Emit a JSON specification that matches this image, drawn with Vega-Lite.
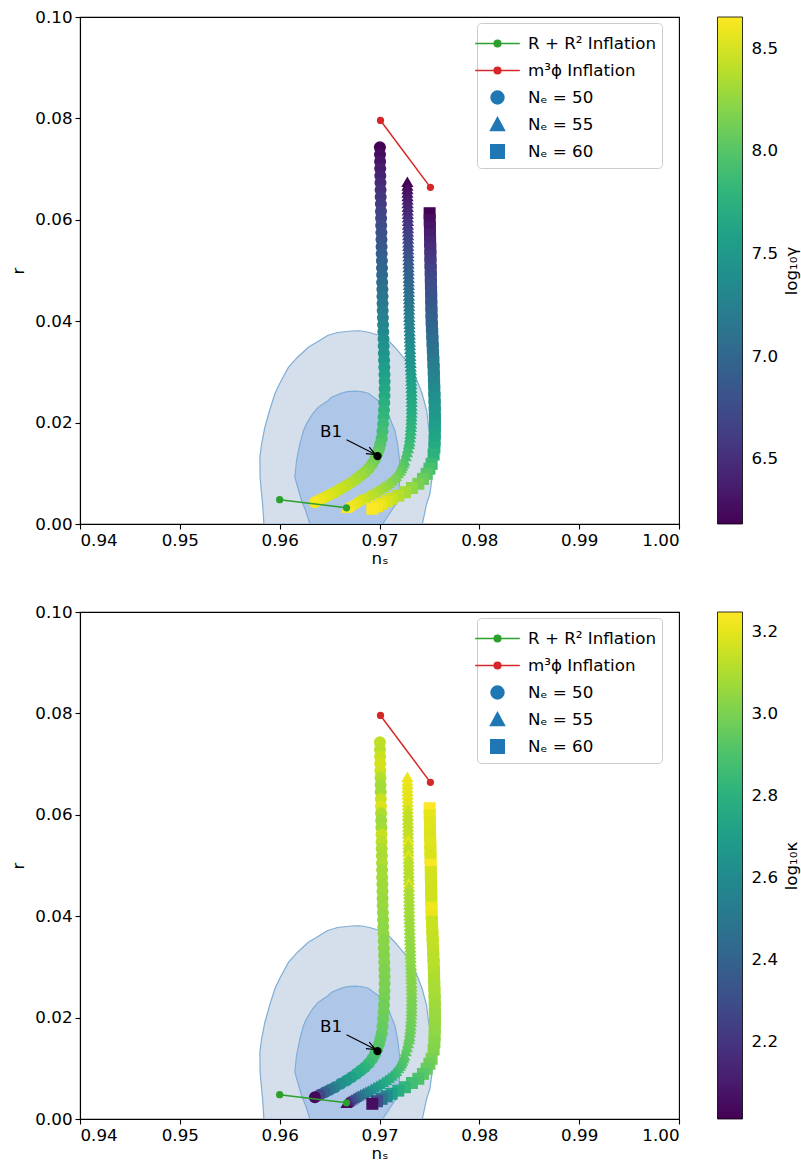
{
  "$schema": "https://vega.github.io/schema/vega-lite/v6.json",
  "background": "white",
  "padding": {"left": 9, "top": 8, "right": 0, "bottom": 0},
  "autosize": {"type": "pad"},
  "spacing": 35,
  "config": {
    "font": "DejaVu Sans",
    "view": {"stroke": "black", "strokeWidth": 1.1},
    "axis": {"labelFontSize": 16.7, "labelColor": "black", "titleFontSize": 16.7, "titleFontWeight": "normal", "titleColor": "black", "tickColor": "black", "tickSize": 5, "tickWidth": 1.1, "domainColor": "black", "domainWidth": 1.1, "grid": false, "labelPadding": 3, "zindex": 1}
  },
  "resolve": {"scale": {"color": "independent", "fill": "independent", "stroke": "independent", "shape": "independent"}},
  "datasets": {
    "contour": [
      {"lvl": "o", "r": 0, "lo": 0.95842, "hi": 0.97429},
      {"lvl": "o", "r": 0.00398, "lo": 0.95829, "hi": 0.97472},
      {"lvl": "o", "r": 0.00596, "lo": 0.95819, "hi": 0.97505},
      {"lvl": "o", "r": 0.00923, "lo": 0.95804, "hi": 0.97527},
      {"lvl": "o", "r": 0.01318, "lo": 0.95802, "hi": 0.97537},
      {"lvl": "o", "r": 0.01582, "lo": 0.95819, "hi": 0.97522},
      {"lvl": "o", "r": 0.01909, "lo": 0.95852, "hi": 0.97492},
      {"lvl": "o", "r": 0.02239, "lo": 0.95899, "hi": 0.97472},
      {"lvl": "o", "r": 0.02568, "lo": 0.95952, "hi": 0.97427},
      {"lvl": "o", "r": 0.02765, "lo": 0.95999, "hi": 0.97389},
      {"lvl": "o", "r": 0.03093, "lo": 0.96089, "hi": 0.97322},
      {"lvl": "o", "r": 0.0329, "lo": 0.96179, "hi": 0.97238},
      {"lvl": "o", "r": 0.03487, "lo": 0.96287, "hi": 0.97154},
      {"lvl": "o", "r": 0.0362, "lo": 0.964, "hi": 0.97088},
      {"lvl": "o", "r": 0.03718, "lo": 0.9648, "hi": 0.97001},
      {"lvl": "o", "r": 0.03777, "lo": 0.9658, "hi": 0.96901},
      {"lvl": "o", "r": 0.03807, "lo": 0.9672, "hi": 0.96821},
      {"lvl": "o", "r": 0.0381, "lo": 0.96788, "hi": 0.96788},
      {"lvl": "i", "r": 0, "lo": 0.96303, "hi": 0.97031},
      {"lvl": "i", "r": 0.00266, "lo": 0.9626, "hi": 0.97121},
      {"lvl": "i", "r": 0.00464, "lo": 0.96219, "hi": 0.97188},
      {"lvl": "i", "r": 0.00923, "lo": 0.96152, "hi": 0.97204},
      {"lvl": "i", "r": 0.01252, "lo": 0.96169, "hi": 0.97201},
      {"lvl": "i", "r": 0.01582, "lo": 0.96202, "hi": 0.97181},
      {"lvl": "i", "r": 0.01844, "lo": 0.96239, "hi": 0.97154},
      {"lvl": "i", "r": 0.01976, "lo": 0.96269, "hi": 0.97126},
      {"lvl": "i", "r": 0.02174, "lo": 0.9633, "hi": 0.97088},
      {"lvl": "i", "r": 0.02304, "lo": 0.96387, "hi": 0.97051},
      {"lvl": "i", "r": 0.02436, "lo": 0.96487, "hi": 0.96988},
      {"lvl": "i", "r": 0.02501, "lo": 0.9652, "hi": 0.96941},
      {"lvl": "i", "r": 0.0258, "lo": 0.9662, "hi": 0.96888},
      {"lvl": "i", "r": 0.0261, "lo": 0.9668, "hi": 0.96821},
      {"lvl": "i", "r": 0.02619, "lo": 0.96754, "hi": 0.96754}
    ],
    "curves": [
      {"n": 50, "x": 0.97004, "r": 0.0743, "g": 6.19, "k": 3.13},
      {"n": 50, "x": 0.97005, "r": 0.0729, "g": 6.25, "k": 3.12},
      {"n": 50, "x": 0.97006, "r": 0.0715, "g": 6.3, "k": 3.15},
      {"n": 50, "x": 0.97007, "r": 0.0701, "g": 6.36, "k": 3.17},
      {"n": 50, "x": 0.97008, "r": 0.0687, "g": 6.41, "k": 3.16},
      {"n": 50, "x": 0.9701, "r": 0.0673, "g": 6.46, "k": 3.11},
      {"n": 50, "x": 0.97011, "r": 0.0659, "g": 6.51, "k": 3.08},
      {"n": 50, "x": 0.97012, "r": 0.0645, "g": 6.56, "k": 3.08},
      {"n": 50, "x": 0.97014, "r": 0.0631, "g": 6.61, "k": 3.15},
      {"n": 50, "x": 0.97015, "r": 0.0617, "g": 6.66, "k": 3.18},
      {"n": 50, "x": 0.97016, "r": 0.0603, "g": 6.7, "k": 3.1},
      {"n": 50, "x": 0.97017, "r": 0.0589, "g": 6.74, "k": 3.07},
      {"n": 50, "x": 0.97019, "r": 0.0575, "g": 6.78, "k": 3.08},
      {"n": 50, "x": 0.9702, "r": 0.0561, "g": 6.82, "k": 3.14},
      {"n": 50, "x": 0.97021, "r": 0.0547, "g": 6.86, "k": 3.12},
      {"n": 50, "x": 0.97022, "r": 0.0533, "g": 6.9, "k": 3.1},
      {"n": 50, "x": 0.97024, "r": 0.0519, "g": 6.94, "k": 3.09},
      {"n": 50, "x": 0.97025, "r": 0.0505, "g": 6.98, "k": 3.1},
      {"n": 50, "x": 0.97026, "r": 0.0491, "g": 7.02, "k": 3.08},
      {"n": 50, "x": 0.97027, "r": 0.0477, "g": 7.06, "k": 3.08},
      {"n": 50, "x": 0.97029, "r": 0.0463, "g": 7.1, "k": 3.07},
      {"n": 50, "x": 0.9703, "r": 0.0449, "g": 7.14, "k": 3.07},
      {"n": 50, "x": 0.97031, "r": 0.0435, "g": 7.18, "k": 3.06},
      {"n": 50, "x": 0.97032, "r": 0.0421, "g": 7.22, "k": 3.06},
      {"n": 50, "x": 0.97034, "r": 0.0407, "g": 7.26, "k": 3.05},
      {"n": 50, "x": 0.97036, "r": 0.0393, "g": 7.3, "k": 3.05},
      {"n": 50, "x": 0.97038, "r": 0.0379, "g": 7.34, "k": 3.04},
      {"n": 50, "x": 0.9704, "r": 0.0365, "g": 7.38, "k": 3.04},
      {"n": 50, "x": 0.97042, "r": 0.0351, "g": 7.42, "k": 3.03},
      {"n": 50, "x": 0.97044, "r": 0.0337, "g": 7.46, "k": 3.03},
      {"n": 50, "x": 0.97046, "r": 0.0323, "g": 7.5, "k": 3.02},
      {"n": 50, "x": 0.97048, "r": 0.0309, "g": 7.54, "k": 3.02},
      {"n": 50, "x": 0.9705, "r": 0.0295, "g": 7.58, "k": 3.01},
      {"n": 50, "x": 0.97051, "r": 0.0281, "g": 7.62, "k": 3.01},
      {"n": 50, "x": 0.97051, "r": 0.0267, "g": 7.66, "k": 3.0},
      {"n": 50, "x": 0.9705, "r": 0.0253, "g": 7.7, "k": 3.0},
      {"n": 50, "x": 0.97048, "r": 0.0239, "g": 7.74, "k": 2.99},
      {"n": 50, "x": 0.97045, "r": 0.0225, "g": 7.78, "k": 2.98},
      {"n": 50, "x": 0.97041, "r": 0.0211, "g": 7.82, "k": 2.98},
      {"n": 50, "x": 0.97036, "r": 0.0197, "g": 7.86, "k": 2.97},
      {"n": 50, "x": 0.9703, "r": 0.0183, "g": 7.9, "k": 2.96},
      {"n": 50, "x": 0.97022, "r": 0.0169, "g": 7.94, "k": 2.95},
      {"n": 50, "x": 0.97008, "r": 0.0158, "g": 7.98, "k": 2.94},
      {"n": 50, "x": 0.96995, "r": 0.0148, "g": 8.02, "k": 2.93},
      {"n": 50, "x": 0.96978, "r": 0.01385, "g": 8.06, "k": 2.92},
      {"n": 50, "x": 0.96955, "r": 0.0128, "g": 8.1, "k": 2.9},
      {"n": 50, "x": 0.96928, "r": 0.01187, "g": 8.15, "k": 2.88},
      {"n": 50, "x": 0.96893, "r": 0.011, "g": 8.2, "k": 2.85},
      {"n": 50, "x": 0.96854, "r": 0.01022, "g": 8.25, "k": 2.82},
      {"n": 50, "x": 0.96813, "r": 0.00955, "g": 8.29, "k": 2.79},
      {"n": 50, "x": 0.96771, "r": 0.00892, "g": 8.33, "k": 2.76},
      {"n": 50, "x": 0.9672, "r": 0.00825, "g": 8.37, "k": 2.72},
      {"n": 50, "x": 0.9667, "r": 0.00759, "g": 8.41, "k": 2.68},
      {"n": 50, "x": 0.96612, "r": 0.00693, "g": 8.45, "k": 2.62},
      {"n": 50, "x": 0.96553, "r": 0.00627, "g": 8.49, "k": 2.56},
      {"n": 50, "x": 0.96503, "r": 0.00578, "g": 8.52, "k": 2.49},
      {"n": 50, "x": 0.96453, "r": 0.00529, "g": 8.55, "k": 2.4},
      {"n": 50, "x": 0.96403, "r": 0.0048, "g": 8.59, "k": 2.28},
      {"n": 50, "x": 0.96353, "r": 0.0043, "g": 8.63, "k": 2.03},
      {"n": 55, "x": 0.97279, "r": 0.0675, "g": 6.19, "k": 3.22},
      {"n": 55, "x": 0.9728, "r": 0.0668, "g": 6.22, "k": 3.21},
      {"n": 55, "x": 0.9728, "r": 0.0661, "g": 6.26, "k": 3.21},
      {"n": 55, "x": 0.9728, "r": 0.0654, "g": 6.3, "k": 3.2},
      {"n": 55, "x": 0.97281, "r": 0.0647, "g": 6.33, "k": 3.2},
      {"n": 55, "x": 0.97282, "r": 0.064, "g": 6.36, "k": 3.2},
      {"n": 55, "x": 0.97282, "r": 0.0633, "g": 6.39, "k": 3.2},
      {"n": 55, "x": 0.97283, "r": 0.0626, "g": 6.42, "k": 3.19},
      {"n": 55, "x": 0.97283, "r": 0.0619, "g": 6.45, "k": 3.19},
      {"n": 55, "x": 0.97284, "r": 0.0612, "g": 6.48, "k": 3.16},
      {"n": 55, "x": 0.97284, "r": 0.0605, "g": 6.51, "k": 3.14},
      {"n": 55, "x": 0.97285, "r": 0.0598, "g": 6.54, "k": 3.13},
      {"n": 55, "x": 0.97285, "r": 0.0591, "g": 6.57, "k": 3.13},
      {"n": 55, "x": 0.97286, "r": 0.0584, "g": 6.6, "k": 3.13},
      {"n": 55, "x": 0.97286, "r": 0.0577, "g": 6.63, "k": 3.13},
      {"n": 55, "x": 0.97287, "r": 0.057, "g": 6.66, "k": 3.13},
      {"n": 55, "x": 0.97287, "r": 0.0563, "g": 6.68, "k": 3.14},
      {"n": 55, "x": 0.97288, "r": 0.0556, "g": 6.7, "k": 3.14},
      {"n": 55, "x": 0.97288, "r": 0.0549, "g": 6.73, "k": 3.21},
      {"n": 55, "x": 0.97289, "r": 0.0542, "g": 6.76, "k": 3.14},
      {"n": 55, "x": 0.97289, "r": 0.0535, "g": 6.78, "k": 3.13},
      {"n": 55, "x": 0.9729, "r": 0.0528, "g": 6.82, "k": 3.13},
      {"n": 55, "x": 0.9729, "r": 0.0521, "g": 6.85, "k": 3.2},
      {"n": 55, "x": 0.97291, "r": 0.0514, "g": 6.88, "k": 3.12},
      {"n": 55, "x": 0.97291, "r": 0.0507, "g": 6.9, "k": 3.12},
      {"n": 55, "x": 0.97292, "r": 0.05, "g": 6.93, "k": 3.12},
      {"n": 55, "x": 0.97292, "r": 0.0493, "g": 6.95, "k": 3.12},
      {"n": 55, "x": 0.97293, "r": 0.0486, "g": 6.98, "k": 3.11},
      {"n": 55, "x": 0.97293, "r": 0.0479, "g": 7.0, "k": 3.11},
      {"n": 55, "x": 0.97294, "r": 0.0472, "g": 7.03, "k": 3.11},
      {"n": 55, "x": 0.97294, "r": 0.0465, "g": 7.05, "k": 3.2},
      {"n": 55, "x": 0.97295, "r": 0.0458, "g": 7.08, "k": 3.1},
      {"n": 55, "x": 0.97295, "r": 0.0451, "g": 7.1, "k": 3.1},
      {"n": 55, "x": 0.97296, "r": 0.0444, "g": 7.12, "k": 3.09},
      {"n": 55, "x": 0.97296, "r": 0.0437, "g": 7.14, "k": 3.09},
      {"n": 55, "x": 0.97297, "r": 0.043, "g": 7.16, "k": 3.09},
      {"n": 55, "x": 0.97297, "r": 0.0423, "g": 7.18, "k": 3.08},
      {"n": 55, "x": 0.97298, "r": 0.0416, "g": 7.2, "k": 3.08},
      {"n": 55, "x": 0.97298, "r": 0.0409, "g": 7.22, "k": 3.08},
      {"n": 55, "x": 0.97299, "r": 0.0402, "g": 7.24, "k": 3.07},
      {"n": 55, "x": 0.973, "r": 0.0395, "g": 7.26, "k": 3.07},
      {"n": 55, "x": 0.97301, "r": 0.0388, "g": 7.28, "k": 3.07},
      {"n": 55, "x": 0.97302, "r": 0.0381, "g": 7.3, "k": 3.07},
      {"n": 55, "x": 0.97303, "r": 0.0374, "g": 7.32, "k": 3.06},
      {"n": 55, "x": 0.97304, "r": 0.0367, "g": 7.34, "k": 3.06},
      {"n": 55, "x": 0.97305, "r": 0.036, "g": 7.36, "k": 3.06},
      {"n": 55, "x": 0.97306, "r": 0.0353, "g": 7.38, "k": 3.05},
      {"n": 55, "x": 0.97307, "r": 0.0346, "g": 7.4, "k": 3.05},
      {"n": 55, "x": 0.97308, "r": 0.0339, "g": 7.42, "k": 3.05},
      {"n": 55, "x": 0.97309, "r": 0.0332, "g": 7.44, "k": 3.04},
      {"n": 55, "x": 0.9731, "r": 0.0325, "g": 7.46, "k": 3.04},
      {"n": 55, "x": 0.97312, "r": 0.0318, "g": 7.48, "k": 3.04},
      {"n": 55, "x": 0.97313, "r": 0.0311, "g": 7.5, "k": 3.04},
      {"n": 55, "x": 0.97315, "r": 0.0304, "g": 7.52, "k": 3.03},
      {"n": 55, "x": 0.97316, "r": 0.0297, "g": 7.54, "k": 3.03},
      {"n": 55, "x": 0.97317, "r": 0.029, "g": 7.56, "k": 3.03},
      {"n": 55, "x": 0.97318, "r": 0.0283, "g": 7.58, "k": 3.03},
      {"n": 55, "x": 0.97319, "r": 0.0276, "g": 7.6, "k": 3.02},
      {"n": 55, "x": 0.9732, "r": 0.0269, "g": 7.62, "k": 3.02},
      {"n": 55, "x": 0.97321, "r": 0.0262, "g": 7.64, "k": 3.02},
      {"n": 55, "x": 0.97321, "r": 0.0255, "g": 7.65, "k": 3.02},
      {"n": 55, "x": 0.97322, "r": 0.0248, "g": 7.66, "k": 3.01},
      {"n": 55, "x": 0.97322, "r": 0.0241, "g": 7.68, "k": 3.01},
      {"n": 55, "x": 0.97322, "r": 0.0234, "g": 7.7, "k": 3.0},
      {"n": 55, "x": 0.97322, "r": 0.0227, "g": 7.71, "k": 3.0},
      {"n": 55, "x": 0.97321, "r": 0.022, "g": 7.72, "k": 3.0},
      {"n": 55, "x": 0.9732, "r": 0.0213, "g": 7.74, "k": 2.99},
      {"n": 55, "x": 0.97319, "r": 0.0206, "g": 7.76, "k": 2.99},
      {"n": 55, "x": 0.97317, "r": 0.0199, "g": 7.77, "k": 2.99},
      {"n": 55, "x": 0.97315, "r": 0.0192, "g": 7.78, "k": 2.98},
      {"n": 55, "x": 0.97312, "r": 0.0185, "g": 7.8, "k": 2.98},
      {"n": 55, "x": 0.97309, "r": 0.0178, "g": 7.82, "k": 2.97},
      {"n": 55, "x": 0.97305, "r": 0.0171, "g": 7.83, "k": 2.97},
      {"n": 55, "x": 0.973, "r": 0.0164, "g": 7.85, "k": 2.96},
      {"n": 55, "x": 0.97295, "r": 0.0158, "g": 7.86, "k": 2.96},
      {"n": 55, "x": 0.97286, "r": 0.015, "g": 7.89, "k": 2.955},
      {"n": 55, "x": 0.97275, "r": 0.0142, "g": 7.92, "k": 2.95},
      {"n": 55, "x": 0.97263, "r": 0.0134, "g": 7.95, "k": 2.94},
      {"n": 55, "x": 0.97249, "r": 0.01252, "g": 7.98, "k": 2.93},
      {"n": 55, "x": 0.97239, "r": 0.01204, "g": 8.0, "k": 2.92},
      {"n": 55, "x": 0.97228, "r": 0.01155, "g": 8.03, "k": 2.91},
      {"n": 55, "x": 0.97217, "r": 0.01105, "g": 8.05, "k": 2.9},
      {"n": 55, "x": 0.97204, "r": 0.01055, "g": 8.08, "k": 2.89},
      {"n": 55, "x": 0.97186, "r": 0.01005, "g": 8.11, "k": 2.88},
      {"n": 55, "x": 0.97166, "r": 0.00955, "g": 8.14, "k": 2.86},
      {"n": 55, "x": 0.97145, "r": 0.00906, "g": 8.17, "k": 2.84},
      {"n": 55, "x": 0.97121, "r": 0.00858, "g": 8.2, "k": 2.82},
      {"n": 55, "x": 0.97094, "r": 0.00816, "g": 8.23, "k": 2.8},
      {"n": 55, "x": 0.97065, "r": 0.00775, "g": 8.26, "k": 2.78},
      {"n": 55, "x": 0.97035, "r": 0.00735, "g": 8.29, "k": 2.76},
      {"n": 55, "x": 0.97004, "r": 0.00694, "g": 8.32, "k": 2.73},
      {"n": 55, "x": 0.96975, "r": 0.00661, "g": 8.35, "k": 2.7},
      {"n": 55, "x": 0.96946, "r": 0.00628, "g": 8.38, "k": 2.67},
      {"n": 55, "x": 0.96917, "r": 0.00595, "g": 8.41, "k": 2.64},
      {"n": 55, "x": 0.96888, "r": 0.00562, "g": 8.44, "k": 2.6},
      {"n": 55, "x": 0.96863, "r": 0.00537, "g": 8.46, "k": 2.56},
      {"n": 55, "x": 0.96838, "r": 0.00513, "g": 8.49, "k": 2.52},
      {"n": 55, "x": 0.96813, "r": 0.00488, "g": 8.51, "k": 2.48},
      {"n": 55, "x": 0.96788, "r": 0.00464, "g": 8.54, "k": 2.44},
      {"n": 55, "x": 0.96766, "r": 0.0044, "g": 8.56, "k": 2.39},
      {"n": 55, "x": 0.96745, "r": 0.00415, "g": 8.58, "k": 2.34},
      {"n": 55, "x": 0.96724, "r": 0.0039, "g": 8.6, "k": 2.28},
      {"n": 55, "x": 0.96703, "r": 0.00365, "g": 8.62, "k": 2.22},
      {"n": 55, "x": 0.96686, "r": 0.00342, "g": 8.64, "k": 2.12},
      {"n": 55, "x": 0.9667, "r": 0.0032, "g": 8.65, "k": 2.03},
      {"n": 60, "x": 0.97502, "r": 0.0613, "g": 6.19, "k": 3.25},
      {"n": 60, "x": 0.97503, "r": 0.0599, "g": 6.26, "k": 3.2},
      {"n": 60, "x": 0.97505, "r": 0.0585, "g": 6.32, "k": 3.19},
      {"n": 60, "x": 0.97506, "r": 0.0571, "g": 6.38, "k": 3.19},
      {"n": 60, "x": 0.97507, "r": 0.0557, "g": 6.44, "k": 3.18},
      {"n": 60, "x": 0.97509, "r": 0.0543, "g": 6.5, "k": 3.19},
      {"n": 60, "x": 0.9751, "r": 0.0529, "g": 6.55, "k": 3.18},
      {"n": 60, "x": 0.97511, "r": 0.0515, "g": 6.6, "k": 3.18},
      {"n": 60, "x": 0.97513, "r": 0.0501, "g": 6.65, "k": 3.24},
      {"n": 60, "x": 0.97514, "r": 0.0487, "g": 6.7, "k": 3.17},
      {"n": 60, "x": 0.97515, "r": 0.0473, "g": 6.74, "k": 3.16},
      {"n": 60, "x": 0.97517, "r": 0.0459, "g": 6.78, "k": 3.16},
      {"n": 60, "x": 0.97518, "r": 0.0445, "g": 6.82, "k": 3.16},
      {"n": 60, "x": 0.97519, "r": 0.0431, "g": 6.86, "k": 3.16},
      {"n": 60, "x": 0.97521, "r": 0.0417, "g": 6.9, "k": 3.22},
      {"n": 60, "x": 0.97522, "r": 0.0403, "g": 6.94, "k": 3.21},
      {"n": 60, "x": 0.97525, "r": 0.0389, "g": 6.98, "k": 3.15},
      {"n": 60, "x": 0.97528, "r": 0.0375, "g": 7.02, "k": 3.15},
      {"n": 60, "x": 0.97531, "r": 0.0361, "g": 7.07, "k": 3.14},
      {"n": 60, "x": 0.97534, "r": 0.0347, "g": 7.11, "k": 3.14},
      {"n": 60, "x": 0.97537, "r": 0.0333, "g": 7.15, "k": 3.13},
      {"n": 60, "x": 0.9754, "r": 0.0319, "g": 7.2, "k": 3.12},
      {"n": 60, "x": 0.97543, "r": 0.0305, "g": 7.24, "k": 3.12},
      {"n": 60, "x": 0.97545, "r": 0.0291, "g": 7.28, "k": 3.11},
      {"n": 60, "x": 0.97547, "r": 0.0277, "g": 7.32, "k": 3.1},
      {"n": 60, "x": 0.97549, "r": 0.0263, "g": 7.36, "k": 3.09},
      {"n": 60, "x": 0.97551, "r": 0.0249, "g": 7.4, "k": 3.09},
      {"n": 60, "x": 0.97553, "r": 0.0235, "g": 7.44, "k": 3.08},
      {"n": 60, "x": 0.97554, "r": 0.0221, "g": 7.48, "k": 3.07},
      {"n": 60, "x": 0.97555, "r": 0.0207, "g": 7.52, "k": 3.06},
      {"n": 60, "x": 0.97555, "r": 0.0193, "g": 7.56, "k": 3.06},
      {"n": 60, "x": 0.97554, "r": 0.0179, "g": 7.6, "k": 3.05},
      {"n": 60, "x": 0.97552, "r": 0.0165, "g": 7.65, "k": 3.04},
      {"n": 60, "x": 0.9755, "r": 0.0151, "g": 7.7, "k": 3.03},
      {"n": 60, "x": 0.97542, "r": 0.0137, "g": 7.77, "k": 3.02},
      {"n": 60, "x": 0.97522, "r": 0.01187, "g": 7.86, "k": 3.0},
      {"n": 60, "x": 0.975, "r": 0.0109, "g": 7.93, "k": 2.98},
      {"n": 60, "x": 0.97472, "r": 0.0099, "g": 8.0, "k": 2.96},
      {"n": 60, "x": 0.97435, "r": 0.0089, "g": 8.08, "k": 2.93},
      {"n": 60, "x": 0.97389, "r": 0.00793, "g": 8.16, "k": 2.9},
      {"n": 60, "x": 0.97325, "r": 0.0071, "g": 8.24, "k": 2.87},
      {"n": 60, "x": 0.97255, "r": 0.00627, "g": 8.32, "k": 2.83},
      {"n": 60, "x": 0.97188, "r": 0.0056, "g": 8.39, "k": 2.78},
      {"n": 60, "x": 0.97121, "r": 0.00497, "g": 8.45, "k": 2.72},
      {"n": 60, "x": 0.97071, "r": 0.00447, "g": 8.51, "k": 2.6},
      {"n": 60, "x": 0.97021, "r": 0.00398, "g": 8.56, "k": 2.48},
      {"n": 60, "x": 0.96975, "r": 0.0035, "g": 8.61, "k": 2.3},
      {"n": 60, "x": 0.96928, "r": 0.003, "g": 8.65, "k": 2.05}
    ],
    "lines": [
      {"s": "R", "x": 0.96, "r": 0.0048},
      {"s": "R", "x": 0.9667, "r": 0.0032},
      {"s": "m", "x": 0.9701, "r": 0.0796},
      {"s": "m", "x": 0.9751, "r": 0.0664}
    ],
    "arrow": [{"x": 0.9667, "r": 0.0166, "x2": 0.96961, "r2": 0.01371}],
    "b1": [{"x": 0.9698, "r": 0.0134, "lx": 0.96515, "lr": 0.0171, "t": "B1"}]
  },
  "vconcat": [
    {
      "width": 599, "height": 507,
      "resolve": {"axis": {"y": "independent"}},
      "layer": [
        {"data": {"name": "contour"}, "transform": [{"filter": "datum.lvl == 'o'"}],
         "mark": {"type": "area", "orient": "horizontal", "fill": "#d5dfeb", "stroke": "#80aed6", "strokeWidth": 1.2, "clip": true},
         "encoding": {
           "y": {"field": "r", "type": "quantitative", "title": "r", "scale": {"domain": [0, 0.1], "nice": false, "zero": false}, "axis": {"orient": "left", "values": [0, 0.02, 0.04, 0.06, 0.08, 0.1], "format": ".2f", "titlePadding": 7.5}},
           "x": {"field": "lo", "type": "quantitative", "title": "nₛ", "scale": {"domain": [0.94, 1.0], "nice": false, "zero": false}, "axis": {"values": [0.94, 0.95, 0.96, 0.97, 0.98, 0.99, 1.0], "format": ".2f", "titlePadding": 2}},
           "x2": {"field": "hi"}}},
        {"data": {"name": "contour"}, "transform": [{"filter": "datum.lvl == 'i'"}],
         "mark": {"type": "area", "orient": "horizontal", "fill": "#aec6e8", "stroke": "#80aed6", "strokeWidth": 1.2, "clip": true},
         "encoding": {"y": {"field": "r", "type": "quantitative", "title": "r", "axis": null}, "x": {"field": "lo", "type": "quantitative", "title": "nₛ"}, "x2": {"field": "hi"}}},
        {"data": {"name": "curves"}, "transform": [{"filter": "datum.n == 50"}],
         "mark": {"type": "point", "shape": "circle", "filled": true, "size": 144, "opacity": 1},
         "encoding": {"x": {"field": "x", "type": "quantitative", "title": "nₛ"}, "y": {"field": "r", "type": "quantitative", "title": "r", "axis": null},
           "color": {"field": "g", "type": "quantitative", "scale": {"scheme": "viridis", "domain": [6.183, 8.656]}, "legend": {"title": null, "orient": "none", "legendX": 637.5, "legendY": 0, "direction": "vertical", "gradientLength": 507, "gradientThickness": 25, "padding": 0, "values": [6.5, 7, 7.5, 8, 8.5], "format": ".1f", "labelFontSize": 16.7, "labelColor": "black", "labelOffset": 9, "labelOverlap": false, "gradientStrokeColor": "black", "gradientStrokeWidth": 0.8}}}},
        {"data": {"name": "curves"}, "transform": [{"filter": "datum.n == 55"}],
         "mark": {"type": "point", "shape": "triangle-up", "filled": true, "size": 150, "opacity": 1},
         "encoding": {"x": {"field": "x", "type": "quantitative", "title": "nₛ"}, "y": {"field": "r", "type": "quantitative", "title": "r", "axis": null},
           "color": {"field": "g", "type": "quantitative", "scale": {"scheme": "viridis", "domain": [6.183, 8.656]}, "legend": {"title": null, "orient": "none", "legendX": 637.5, "legendY": 0, "direction": "vertical", "gradientLength": 507, "gradientThickness": 25, "padding": 0, "values": [6.5, 7, 7.5, 8, 8.5], "format": ".1f", "labelFontSize": 16.7, "labelColor": "black", "labelOffset": 9, "labelOverlap": false, "gradientStrokeColor": "black", "gradientStrokeWidth": 0.8}}}},
        {"data": {"name": "curves"}, "transform": [{"filter": "datum.n == 60"}],
         "mark": {"type": "point", "shape": "square", "filled": true, "size": 144, "opacity": 1},
         "encoding": {"x": {"field": "x", "type": "quantitative", "title": "nₛ"}, "y": {"field": "r", "type": "quantitative", "title": "r", "axis": null},
           "color": {"field": "g", "type": "quantitative", "scale": {"scheme": "viridis", "domain": [6.183, 8.656]}, "legend": {"title": null, "orient": "none", "legendX": 637.5, "legendY": 0, "direction": "vertical", "gradientLength": 507, "gradientThickness": 25, "padding": 0, "values": [6.5, 7, 7.5, 8, 8.5], "format": ".1f", "labelFontSize": 16.7, "labelColor": "black", "labelOffset": 9, "labelOverlap": false, "gradientStrokeColor": "black", "gradientStrokeWidth": 0.8}}}},
        {"data": {"name": "lines"}, "transform": [{"filter": "datum.s == 'R'"}],
         "mark": {"type": "line", "color": "#2ca02c", "strokeWidth": 1.5, "point": {"filled": true, "size": 53, "color": "#2ca02c", "opacity": 1}},
         "encoding": {"x": {"field": "x", "type": "quantitative", "title": "nₛ"}, "y": {"field": "r", "type": "quantitative", "title": "r", "axis": null}}},
        {"data": {"name": "lines"}, "transform": [{"filter": "datum.s == 'm'"}],
         "mark": {"type": "line", "color": "#d62728", "strokeWidth": 1.5, "point": {"filled": true, "size": 53, "color": "#d62728", "opacity": 1}},
         "encoding": {"x": {"field": "x", "type": "quantitative", "title": "nₛ"}, "y": {"field": "r", "type": "quantitative", "title": "r", "axis": null}}},
        {"data": {"name": "arrow"},
         "mark": {"type": "rule", "color": "black", "strokeWidth": 1.2},
         "encoding": {"x": {"field": "x", "type": "quantitative", "title": "nₛ"}, "y": {"field": "r", "type": "quantitative", "title": "r", "axis": null}, "x2": {"field": "x2"}, "y2": {"field": "r2"}}},
        {"data": {"name": "arrow"},
         "mark": {"type": "point", "shape": "M-1,-0.4L0,0L-1,0.4", "filled": false, "size": 324, "angle": 27, "stroke": "black", "strokeWidth": 1.2, "opacity": 1},
         "encoding": {"x": {"field": "x2", "type": "quantitative", "title": "nₛ"}, "y": {"field": "r2", "type": "quantitative", "title": "r", "axis": null}}},
        {"data": {"name": "b1"},
         "mark": {"type": "point", "shape": "circle", "filled": true, "size": 69, "color": "black", "opacity": 1},
         "encoding": {"x": {"field": "x", "type": "quantitative", "title": "nₛ"}, "y": {"field": "r", "type": "quantitative", "title": "r", "axis": null}}},
        {"data": {"name": "b1"},
         "mark": {"type": "text", "fontSize": 16.7, "align": "center", "baseline": "alphabetic", "color": "black"},
         "encoding": {"x": {"field": "lx", "type": "quantitative", "title": "nₛ"}, "y": {"field": "lr", "type": "quantitative", "title": "r", "axis": null}, "text": {"field": "t"}}},
        {"data": {"name": "lines"}, "transform": [{"filter": "false"}],
         "mark": {"type": "point", "filled": true, "opacity": 1},
         "encoding": {"x": {"field": "x", "type": "quantitative", "title": "nₛ"},
           "y": {"field": "r", "type": "quantitative", "title": "log₁₀γ", "axis": {"orient": "right", "labels": false, "ticks": false, "domain": false, "title": "log₁₀γ", "titleAngle": 270, "titleBaseline": "top", "titleAlign": "center", "titlePadding": 104.5}},
           "fill": {"field": "s", "type": "nominal", "scale": {"domain": ["R + R² Inflation", "m³ϕ Inflation", "Nₑ = 50", "Nₑ = 55", "Nₑ = 60"], "range": ["#2ca02c", "#d62728", "#1f77b4", "#1f77b4", "#1f77b4"]}, "legend": {"title": null, "orient": "none", "legendX": 397, "legendY": 6, "padding": 6, "symbolSize": 756, "symbolStrokeWidth": 1.5, "labelFontSize": 16.7, "labelColor": "black", "labelOffset": 16, "rowPadding": 3, "fillColor": "rgba(255,255,255,0.8)", "strokeColor": "#cccccc", "cornerRadius": 4}},
           "stroke": {"field": "s", "type": "nominal", "scale": {"domain": ["R + R² Inflation", "m³ϕ Inflation", "Nₑ = 50", "Nₑ = 55", "Nₑ = 60"], "range": ["#2ca02c", "#d62728", "#1f77b4", "#1f77b4", "#1f77b4"]}, "legend": {"title": null, "orient": "none", "legendX": 397, "legendY": 6, "padding": 6, "symbolSize": 756, "symbolStrokeWidth": 1.5, "labelFontSize": 16.7, "labelColor": "black", "labelOffset": 16, "rowPadding": 3, "fillColor": "rgba(255,255,255,0.8)", "strokeColor": "#cccccc", "cornerRadius": 4}},
           "shape": {"field": "s", "type": "nominal", "scale": {"domain": ["R + R² Inflation", "m³ϕ Inflation", "Nₑ = 50", "Nₑ = 55", "Nₑ = 60"], "range": ["M-1.62,0H1.62M-0.24,0A0.24,0.24,0,1,0,0.24,0A0.24,0.24,0,1,0,-0.24,0Z", "M-1.62,0H1.62M-0.24,0A0.24,0.24,0,1,0,0.24,0A0.24,0.24,0,1,0,-0.24,0Z", "M-0.47,0A0.47,0.47,0,1,0,0.47,0A0.47,0.47,0,1,0,-0.47,0Z", "M0,-0.51L0.51,0.44L-0.51,0.44Z", "M-0.49,-0.49H0.49V0.49H-0.49Z"]}, "legend": {"title": null, "orient": "none", "legendX": 397, "legendY": 6, "padding": 6, "symbolSize": 756, "symbolStrokeWidth": 1.5, "labelFontSize": 16.7, "labelColor": "black", "labelOffset": 16, "rowPadding": 3, "fillColor": "rgba(255,255,255,0.8)", "strokeColor": "#cccccc", "cornerRadius": 4}}}}
      ]
    },
    {
      "width": 599, "height": 507,
      "resolve": {"axis": {"y": "independent"}},
      "layer": [
        {"data": {"name": "contour"}, "transform": [{"filter": "datum.lvl == 'o'"}],
         "mark": {"type": "area", "orient": "horizontal", "fill": "#d5dfeb", "stroke": "#80aed6", "strokeWidth": 1.2, "clip": true},
         "encoding": {
           "y": {"field": "r", "type": "quantitative", "title": "r", "scale": {"domain": [0, 0.1], "nice": false, "zero": false}, "axis": {"orient": "left", "values": [0, 0.02, 0.04, 0.06, 0.08, 0.1], "format": ".2f", "titlePadding": 7.5}},
           "x": {"field": "lo", "type": "quantitative", "title": "nₛ", "scale": {"domain": [0.94, 1.0], "nice": false, "zero": false}, "axis": {"values": [0.94, 0.95, 0.96, 0.97, 0.98, 0.99, 1.0], "format": ".2f", "titlePadding": 2}},
           "x2": {"field": "hi"}}},
        {"data": {"name": "contour"}, "transform": [{"filter": "datum.lvl == 'i'"}],
         "mark": {"type": "area", "orient": "horizontal", "fill": "#aec6e8", "stroke": "#80aed6", "strokeWidth": 1.2, "clip": true},
         "encoding": {"y": {"field": "r", "type": "quantitative", "title": "r", "axis": null}, "x": {"field": "lo", "type": "quantitative", "title": "nₛ"}, "x2": {"field": "hi"}}},
        {"data": {"name": "curves"}, "transform": [{"filter": "datum.n == 50"}],
         "mark": {"type": "point", "shape": "circle", "filled": true, "size": 144, "opacity": 1},
         "encoding": {"x": {"field": "x", "type": "quantitative", "title": "nₛ"}, "y": {"field": "r", "type": "quantitative", "title": "r", "axis": null},
           "color": {"field": "k", "type": "quantitative", "scale": {"scheme": "viridis", "domain": [2.012, 3.248]}, "legend": {"title": null, "orient": "none", "legendX": 637.5, "legendY": 0, "direction": "vertical", "gradientLength": 507, "gradientThickness": 25, "padding": 0, "values": [2.2, 2.4, 2.6, 2.8, 3.0, 3.2], "format": ".1f", "labelFontSize": 16.7, "labelColor": "black", "labelOffset": 9, "labelOverlap": false, "gradientStrokeColor": "black", "gradientStrokeWidth": 0.8}}}},
        {"data": {"name": "curves"}, "transform": [{"filter": "datum.n == 55"}],
         "mark": {"type": "point", "shape": "triangle-up", "filled": true, "size": 150, "opacity": 1},
         "encoding": {"x": {"field": "x", "type": "quantitative", "title": "nₛ"}, "y": {"field": "r", "type": "quantitative", "title": "r", "axis": null},
           "color": {"field": "k", "type": "quantitative", "scale": {"scheme": "viridis", "domain": [2.012, 3.248]}, "legend": {"title": null, "orient": "none", "legendX": 637.5, "legendY": 0, "direction": "vertical", "gradientLength": 507, "gradientThickness": 25, "padding": 0, "values": [2.2, 2.4, 2.6, 2.8, 3.0, 3.2], "format": ".1f", "labelFontSize": 16.7, "labelColor": "black", "labelOffset": 9, "labelOverlap": false, "gradientStrokeColor": "black", "gradientStrokeWidth": 0.8}}}},
        {"data": {"name": "curves"}, "transform": [{"filter": "datum.n == 60"}],
         "mark": {"type": "point", "shape": "square", "filled": true, "size": 144, "opacity": 1},
         "encoding": {"x": {"field": "x", "type": "quantitative", "title": "nₛ"}, "y": {"field": "r", "type": "quantitative", "title": "r", "axis": null},
           "color": {"field": "k", "type": "quantitative", "scale": {"scheme": "viridis", "domain": [2.012, 3.248]}, "legend": {"title": null, "orient": "none", "legendX": 637.5, "legendY": 0, "direction": "vertical", "gradientLength": 507, "gradientThickness": 25, "padding": 0, "values": [2.2, 2.4, 2.6, 2.8, 3.0, 3.2], "format": ".1f", "labelFontSize": 16.7, "labelColor": "black", "labelOffset": 9, "labelOverlap": false, "gradientStrokeColor": "black", "gradientStrokeWidth": 0.8}}}},
        {"data": {"name": "lines"}, "transform": [{"filter": "datum.s == 'R'"}],
         "mark": {"type": "line", "color": "#2ca02c", "strokeWidth": 1.5, "point": {"filled": true, "size": 53, "color": "#2ca02c", "opacity": 1}},
         "encoding": {"x": {"field": "x", "type": "quantitative", "title": "nₛ"}, "y": {"field": "r", "type": "quantitative", "title": "r", "axis": null}}},
        {"data": {"name": "lines"}, "transform": [{"filter": "datum.s == 'm'"}],
         "mark": {"type": "line", "color": "#d62728", "strokeWidth": 1.5, "point": {"filled": true, "size": 53, "color": "#d62728", "opacity": 1}},
         "encoding": {"x": {"field": "x", "type": "quantitative", "title": "nₛ"}, "y": {"field": "r", "type": "quantitative", "title": "r", "axis": null}}},
        {"data": {"name": "arrow"},
         "mark": {"type": "rule", "color": "black", "strokeWidth": 1.2},
         "encoding": {"x": {"field": "x", "type": "quantitative", "title": "nₛ"}, "y": {"field": "r", "type": "quantitative", "title": "r", "axis": null}, "x2": {"field": "x2"}, "y2": {"field": "r2"}}},
        {"data": {"name": "arrow"},
         "mark": {"type": "point", "shape": "M-1,-0.4L0,0L-1,0.4", "filled": false, "size": 324, "angle": 27, "stroke": "black", "strokeWidth": 1.2, "opacity": 1},
         "encoding": {"x": {"field": "x2", "type": "quantitative", "title": "nₛ"}, "y": {"field": "r2", "type": "quantitative", "title": "r", "axis": null}}},
        {"data": {"name": "b1"},
         "mark": {"type": "point", "shape": "circle", "filled": true, "size": 69, "color": "black", "opacity": 1},
         "encoding": {"x": {"field": "x", "type": "quantitative", "title": "nₛ"}, "y": {"field": "r", "type": "quantitative", "title": "r", "axis": null}}},
        {"data": {"name": "b1"},
         "mark": {"type": "text", "fontSize": 16.7, "align": "center", "baseline": "alphabetic", "color": "black"},
         "encoding": {"x": {"field": "lx", "type": "quantitative", "title": "nₛ"}, "y": {"field": "lr", "type": "quantitative", "title": "r", "axis": null}, "text": {"field": "t"}}},
        {"data": {"name": "lines"}, "transform": [{"filter": "false"}],
         "mark": {"type": "point", "filled": true, "opacity": 1},
         "encoding": {"x": {"field": "x", "type": "quantitative", "title": "nₛ"},
           "y": {"field": "r", "type": "quantitative", "title": "log₁₀κ", "axis": {"orient": "right", "labels": false, "ticks": false, "domain": false, "title": "log₁₀κ", "titleAngle": 270, "titleBaseline": "top", "titleAlign": "center", "titlePadding": 104.5}},
           "fill": {"field": "s", "type": "nominal", "scale": {"domain": ["R + R² Inflation", "m³ϕ Inflation", "Nₑ = 50", "Nₑ = 55", "Nₑ = 60"], "range": ["#2ca02c", "#d62728", "#1f77b4", "#1f77b4", "#1f77b4"]}, "legend": {"title": null, "orient": "none", "legendX": 397, "legendY": 6, "padding": 6, "symbolSize": 756, "symbolStrokeWidth": 1.5, "labelFontSize": 16.7, "labelColor": "black", "labelOffset": 16, "rowPadding": 3, "fillColor": "rgba(255,255,255,0.8)", "strokeColor": "#cccccc", "cornerRadius": 4}},
           "stroke": {"field": "s", "type": "nominal", "scale": {"domain": ["R + R² Inflation", "m³ϕ Inflation", "Nₑ = 50", "Nₑ = 55", "Nₑ = 60"], "range": ["#2ca02c", "#d62728", "#1f77b4", "#1f77b4", "#1f77b4"]}, "legend": {"title": null, "orient": "none", "legendX": 397, "legendY": 6, "padding": 6, "symbolSize": 756, "symbolStrokeWidth": 1.5, "labelFontSize": 16.7, "labelColor": "black", "labelOffset": 16, "rowPadding": 3, "fillColor": "rgba(255,255,255,0.8)", "strokeColor": "#cccccc", "cornerRadius": 4}},
           "shape": {"field": "s", "type": "nominal", "scale": {"domain": ["R + R² Inflation", "m³ϕ Inflation", "Nₑ = 50", "Nₑ = 55", "Nₑ = 60"], "range": ["M-1.62,0H1.62M-0.24,0A0.24,0.24,0,1,0,0.24,0A0.24,0.24,0,1,0,-0.24,0Z", "M-1.62,0H1.62M-0.24,0A0.24,0.24,0,1,0,0.24,0A0.24,0.24,0,1,0,-0.24,0Z", "M-0.47,0A0.47,0.47,0,1,0,0.47,0A0.47,0.47,0,1,0,-0.47,0Z", "M0,-0.51L0.51,0.44L-0.51,0.44Z", "M-0.49,-0.49H0.49V0.49H-0.49Z"]}, "legend": {"title": null, "orient": "none", "legendX": 397, "legendY": 6, "padding": 6, "symbolSize": 756, "symbolStrokeWidth": 1.5, "labelFontSize": 16.7, "labelColor": "black", "labelOffset": 16, "rowPadding": 3, "fillColor": "rgba(255,255,255,0.8)", "strokeColor": "#cccccc", "cornerRadius": 4}}}}
      ]
    }
  ]
}
